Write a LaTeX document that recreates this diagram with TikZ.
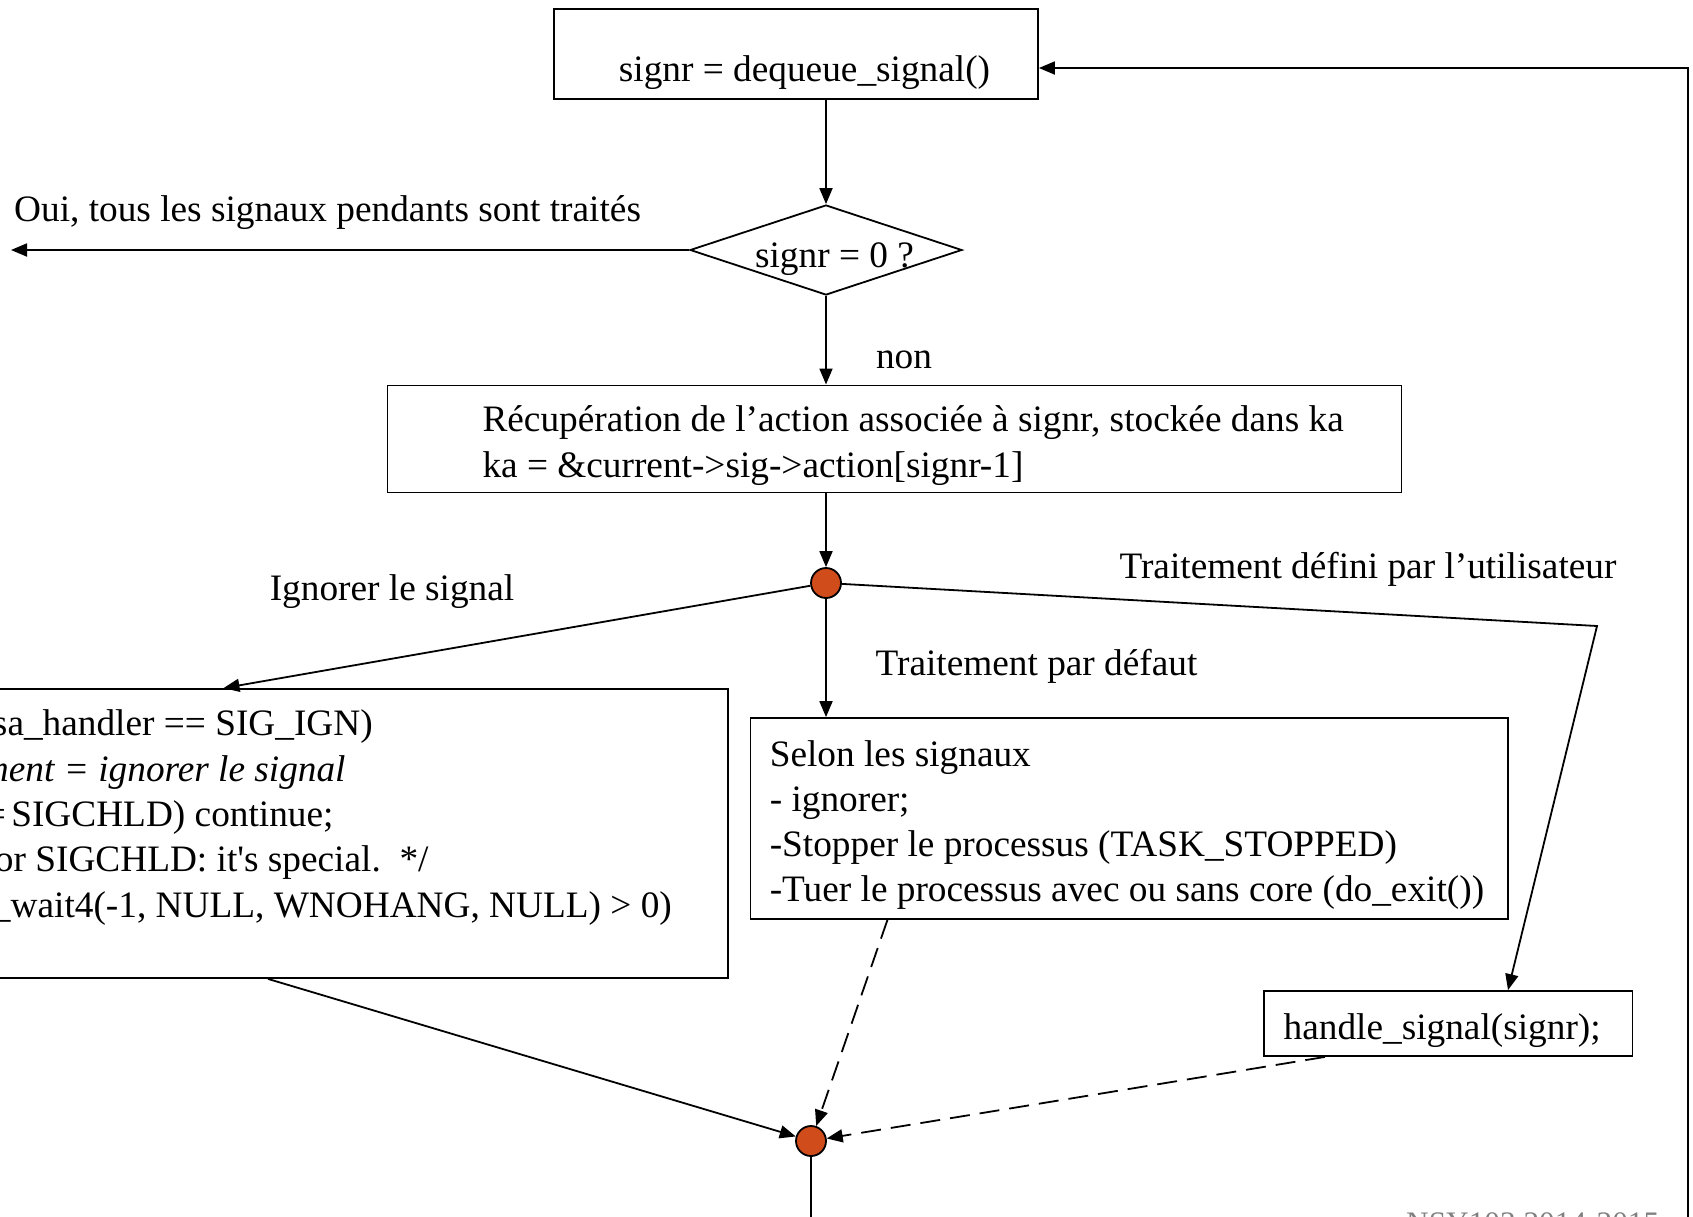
\documentclass[tikz,border=0pt]{standalone}
\usepackage{fontspec}
\setmainfont{Liberation Serif}
\usetikzlibrary{arrows.meta,positioning,shapes.geometric}
\definecolor{dotred}{RGB}{208,76,26}
\definecolor{notegray}{RGB}{128,128,128}
\newcommand{\bigfont}{\fontsize{37.3pt}{45.3pt}\selectfont}
\newcommand{\topstrut}{\rule{0pt}{44.7pt}}

\begin{document}
\begin{tikzpicture}[x=1pt,y=-1pt,
  box/.style={draw,line width=1.8pt,inner sep=0pt,font=\bigfont},
  tbox/.style={box,text width=#1,align=flush left},
  arr/.style={line width=1.8pt,-{Triangle[length=16pt,width=13pt]}},
  dasharr/.style={arr,dash pattern=on 20pt off 10pt},
  dot/.style={circle,draw,line width=1.8pt,fill=dotred,minimum size=30pt,inner sep=0pt},
  lbl/.style={font=\bigfont,inner sep=0pt}]
  \useasboundingbox (0,0) rectangle (1693,1216);
  \clip (0,0) rectangle (1693,1216);
  % boxes
  \node[box,minimum width=484pt,text height=72.2pt,text depth=17.8pt] (deq) at (796,54)
    {\hspace*{17pt}signr = dequeue\_signal()};
  \node[diamond,aspect=3,draw,line width=1.8pt,font=\bigfont,inner sep=0pt,text height=20pt,text depth=5pt,
        minimum width=272pt,minimum height=90pt] (zero) at (826,250) {\hspace*{17pt}\raisebox{-9.7pt}{signr = 0 ?}};
  \node[tbox=1014pt,minimum height=107pt] (fetch) at (894.5,438.9)
    {\leftskip=95pt\topstrut R\'ecup\'eration de l’action associ\'ee \`a signr, stock\'ee dans ka\\
     ka = \&current->sig->action[signr-1]\strut\par};
  \node[dot] (fork) at (826,583) {};
  \node[tbox=777.7pt,minimum height=289pt] (ign) at (338.85,833.5)
    {\leftskip=50pt\topstrut\hspace*{-7pt}sa\_handler == SIG\_IGN)\\
     \hspace*{-18pt}\textit{ment = ignorer le signal}\\
     \hspace*{-15pt}=\hspace{-4pt} SIGCHLD) continue;\\
     \hspace*{-5pt}or SIGCHLD: it\textquotesingle s special.\ \ */\\
     \hspace*{-8pt}\_wait4(-1, NULL, WNOHANG, NULL) > 0)\\
     \strut\par};
  \node[tbox=757.6pt,minimum height=200.8pt] (dflt) at (1129.2,818.4)
    {\leftskip=19.4pt\topstrut Selon les signaux\\
     - ignorer;\\
     -Stopper le processus (TASK\_STOPPED)\\
     -Tuer le processus avec ou sans core (do\_exit())\strut\par};
  \node[tbox=368.5pt,minimum height=65pt] (hdl) at (1448.25,1023.5)
    {\leftskip=19.7pt\topstrut handle\_signal(signr);\strut\par};
  \node[dot] (join) at (811,1141) {};
  % labels
  \node[lbl,anchor=west] (oui) at (14,212.5) {Oui, tous les signaux pendants sont trait\'es};
  \node[lbl] (non) at (904,359.5) {non};
  \node[lbl] (ignlbl) at (392,591.5) {Ignorer le signal};
  \node[lbl] (dfltlbl) at (1036.5,666.5) {Traitement par d\'efaut};
  \node[lbl] (userlbl) at (1368,569.5) {Traitement d\'efini par l’utilisateur};
  \node[font=\fontsize{31.3pt}{36pt}\selectfont,text=notegray,anchor=base west,inner sep=0pt] (note)
    at (1406,1233) {NSY103 2014-2015};
  % free ends
  \coordinate (exitpt) at (11,250);
  \coordinate (bend) at (1597,626);
  \coordinate (out) at (811,1230);
  \coordinate (loopbot) at (1687.6,1230);
  % connectors
  \draw[arr] (zero.north |- deq.south) -- (zero.north);
  \draw[arr] (zero.west) -- (exitpt);
  \draw[arr] (zero.south) -- (zero.south |- fetch.north);
  \draw[arr] (fork |- fetch.south) -- (fork.north);
  \draw[arr] (fork) -- ([xshift=-115.35pt]ign.north);
  \draw[arr] (fork.south) -- (fork |- dflt.north);
  \draw[arr] (fork) -- (bend) -- ([xshift=59.75pt]hdl.north);
  \draw[arr] ([xshift=-70.85pt]ign.south) -- (join);
  \draw[dasharr] ([xshift=-241.7pt]dflt.south) -- (join);
  \draw[dasharr] ([xshift=-123.25pt]hdl.south) -- (join);
  \draw[line width=1.8pt] (join.south) -- (out);
  \draw[arr] (loopbot) |- ([yshift=-14pt]deq.east);
\end{tikzpicture}
\end{document}
